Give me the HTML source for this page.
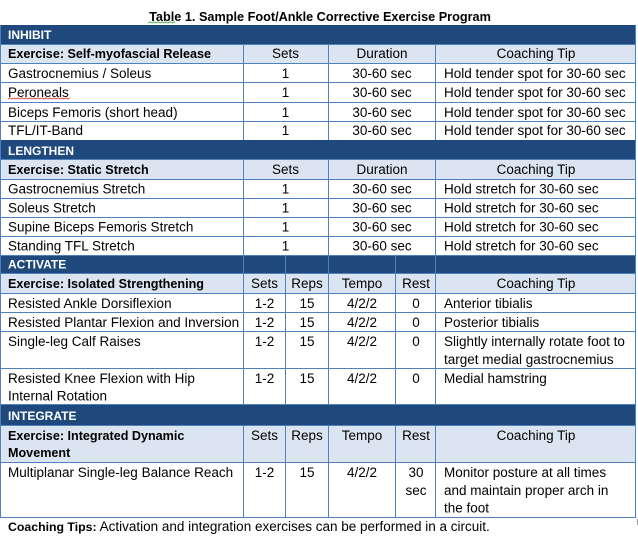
<!DOCTYPE html>
<html>
<head>
<meta charset="utf-8">
<style>
  html,body{margin:0;padding:0;background:#fff;}
  svg{display:block;}
  text{font-family:"Liberation Sans",Arial,sans-serif;fill:#000;}
  .r{font-size:13.5px;}
  .b{font-size:12.6px;font-weight:bold;}
  .band{font-size:12px;font-weight:bold;fill:#fff;}
  .c{text-anchor:middle;}
</style>
</head>
<body>
<svg width="638" height="548" viewBox="0 0 638 548" xmlns="http://www.w3.org/2000/svg">
  <rect x="0" y="0" width="638" height="548" fill="#fff"/>

  <!-- Title -->
  <text x="320" y="21" class="c" style="font-size:12.7px;font-weight:bold;">Table 1. Sample Foot/Ankle Corrective Exercise Program</text>
  <polyline points="148,23 150,21.8 152,23 154,21.8 156,23 158,21.8 160,23 162,21.8 164,23 166,21.8 168,23 170,21.8 172,23 174,21.8 175,23" fill="none" stroke="#3fa53f" stroke-width="0.8"/>

  <!-- ===== INHIBIT ===== -->
  <rect x="0" y="25" width="636" height="19" fill="#1F497D"/>
  <rect x="0" y="44" width="636" height="19" fill="#DBE5F1"/>
  <!-- LENGTHEN -->
  <rect x="0" y="140" width="636" height="19" fill="#1F497D"/>
  <rect x="0" y="159" width="636" height="20" fill="#DBE5F1"/>
  <!-- ACTIVATE -->
  <rect x="0" y="256" width="636" height="17" fill="#1F497D"/>
  <rect x="0" y="273" width="636" height="20" fill="#DBE5F1"/>
  <!-- INTEGRATE -->
  <rect x="0" y="405" width="636" height="20" fill="#1F497D"/>
  <rect x="0" y="425" width="636" height="37" fill="#DBE5F1"/>

  <g stroke="#4F81BD" stroke-width="1" fill="none">
    <!-- horizontal lines -->
    <line x1="0" y1="44.5" x2="636" y2="44.5"/>
    <line x1="0" y1="63.5" x2="636" y2="63.5"/>
    <line x1="0" y1="82.5" x2="636" y2="82.5"/>
    <line x1="0" y1="102.5" x2="636" y2="102.5"/>
    <line x1="0" y1="121.5" x2="636" y2="121.5"/>

    <line x1="0" y1="159.5" x2="636" y2="159.5"/>
    <line x1="0" y1="179.5" x2="636" y2="179.5"/>
    <line x1="0" y1="198.5" x2="636" y2="198.5"/>
    <line x1="0" y1="217.5" x2="636" y2="217.5"/>
    <line x1="0" y1="236.5" x2="636" y2="236.5"/>
    <line x1="0" y1="255.5" x2="636" y2="255.5"/>

    <line x1="0" y1="273.5" x2="636" y2="273.5"/>
    <line x1="0" y1="293.5" x2="636" y2="293.5"/>
    <line x1="0" y1="312.5" x2="636" y2="312.5"/>
    <line x1="0" y1="331.5" x2="636" y2="331.5"/>
    <line x1="0" y1="368.5" x2="636" y2="368.5"/>
    <line x1="0" y1="404.5" x2="636" y2="404.5"/>

    <line x1="0" y1="425.5" x2="636" y2="425.5"/>
    <line x1="0" y1="462.5" x2="636" y2="462.5"/>
    <line x1="0" y1="517.5" x2="636" y2="517.5"/>

    <!-- outer verticals -->
    <line x1="0.5" y1="25" x2="0.5" y2="518"/>
    <line x1="635.5" y1="25" x2="635.5" y2="518"/>

    <!-- INHIBIT verticals -->
    <line x1="243.5" y1="44" x2="243.5" y2="140"/>
    <line x1="328.5" y1="44" x2="328.5" y2="140"/>
    <line x1="435.5" y1="44" x2="435.5" y2="140"/>
    <!-- LENGTHEN verticals -->
    <line x1="243.5" y1="159" x2="243.5" y2="256"/>
    <line x1="328.5" y1="159" x2="328.5" y2="256"/>
    <line x1="435.5" y1="159" x2="435.5" y2="256"/>
    <!-- ACTIVATE verticals (incl. band) -->
    <line x1="243.5" y1="256" x2="243.5" y2="405"/>
    <line x1="285.5" y1="256" x2="285.5" y2="405"/>
    <line x1="328.5" y1="256" x2="328.5" y2="405"/>
    <line x1="395.5" y1="256" x2="395.5" y2="405"/>
    <line x1="435.5" y1="256" x2="435.5" y2="405"/>
    <!-- INTEGRATE verticals -->
    <line x1="243.5" y1="425" x2="243.5" y2="518"/>
    <line x1="285.5" y1="425" x2="285.5" y2="518"/>
    <line x1="328.5" y1="425" x2="328.5" y2="518"/>
    <line x1="395.5" y1="425" x2="395.5" y2="518"/>
    <line x1="435.5" y1="425" x2="435.5" y2="518"/>
  </g>
  <line x1="637.5" y1="519" x2="637.5" y2="525" stroke="#999" stroke-width="1"/>

  <!-- INHIBIT text -->
  <text x="8" y="39" class="band">INHIBIT</text>
  <text x="8" y="58" class="b">Exercise: Self-myofascial Release</text>
  <text x="285.5" y="58" class="r c">Sets</text>
  <text x="382" y="58" class="r c">Duration</text>
  <text x="536" y="58" class="r c">Coaching Tip</text>

  <text x="8" y="78" class="r">Gastrocnemius / Soleus</text>
  <text x="285.5" y="78" class="r c">1</text>
  <text x="382" y="78" class="r c">30-60 sec</text>
  <text x="444" y="78" class="r">Hold tender spot for 30-60 sec</text>

  <text x="8" y="97" class="r">Peroneals</text>
  <polyline points="8,99 10,97.8 12,99 14,97.8 16,99 18,97.8 20,99 22,97.8 24,99 26,97.8 28,99 30,97.8 32,99 34,97.8 36,99 38,97.8 40,99 42,97.8 44,99 46,97.8 48,99 50,97.8 52,99 54,97.8 56,99 58,97.8 60,99 62,97.8 64,99 66,97.8 68,99 70,97.8" fill="none" stroke="#e03030" stroke-width="0.8"/>
  <text x="285.5" y="97" class="r c">1</text>
  <text x="382" y="97" class="r c">30-60 sec</text>
  <text x="444" y="97" class="r">Hold tender spot for 30-60 sec</text>

  <text x="8" y="117" class="r">Biceps Femoris (short head)</text>
  <text x="285.5" y="117" class="r c">1</text>
  <text x="382" y="117" class="r c">30-60 sec</text>
  <text x="444" y="117" class="r">Hold tender spot for 30-60 sec</text>

  <text x="8" y="135" class="r">TFL/IT-Band</text>
  <text x="285.5" y="135" class="r c">1</text>
  <text x="382" y="135" class="r c">30-60 sec</text>
  <text x="444" y="135" class="r">Hold tender spot for 30-60 sec</text>

  <!-- LENGTHEN text -->
  <text x="8" y="155" class="band">LENGTHEN</text>
  <text x="8" y="174" class="b">Exercise: Static Stretch</text>
  <text x="285.5" y="174" class="r c">Sets</text>
  <text x="382" y="174" class="r c">Duration</text>
  <text x="536" y="174" class="r c">Coaching Tip</text>

  <text x="8" y="193.5" class="r">Gastrocnemius Stretch</text>
  <text x="285.5" y="193.5" class="r c">1</text>
  <text x="382" y="193.5" class="r c">30-60 sec</text>
  <text x="444" y="193.5" class="r">Hold stretch for 30-60 sec</text>

  <text x="8" y="212.5" class="r">Soleus Stretch</text>
  <text x="285.5" y="212.5" class="r c">1</text>
  <text x="382" y="212.5" class="r c">30-60 sec</text>
  <text x="444" y="212.5" class="r">Hold stretch for 30-60 sec</text>

  <text x="8" y="231.5" class="r">Supine Biceps Femoris Stretch</text>
  <text x="285.5" y="231.5" class="r c">1</text>
  <text x="382" y="231.5" class="r c">30-60 sec</text>
  <text x="444" y="231.5" class="r">Hold stretch for 30-60 sec</text>

  <text x="8" y="250.5" class="r">Standing TFL Stretch</text>
  <text x="285.5" y="250.5" class="r c">1</text>
  <text x="382" y="250.5" class="r c">30-60 sec</text>
  <text x="444" y="250.5" class="r">Hold stretch for 30-60 sec</text>

  <!-- ACTIVATE text -->
  <text x="8" y="268.5" class="band">ACTIVATE</text>
  <text x="8" y="288" class="b">Exercise: Isolated Strengthening</text>
  <text x="264.5" y="288" class="r c">Sets</text>
  <text x="307" y="288" class="r c">Reps</text>
  <text x="362" y="288" class="r c">Tempo</text>
  <text x="416" y="288" class="r c">Rest</text>
  <text x="536" y="288" class="r c">Coaching Tip</text>

  <text x="8" y="308" class="r">Resisted Ankle Dorsiflexion</text>
  <text x="264.5" y="308" class="r c">1-2</text>
  <text x="307" y="308" class="r c">15</text>
  <text x="362" y="308" class="r c">4/2/2</text>
  <text x="416" y="308" class="r c">0</text>
  <text x="444" y="308" class="r">Anterior tibialis</text>

  <text x="8" y="327" class="r">Resisted Plantar Flexion and Inversion</text>
  <text x="264.5" y="327" class="r c">1-2</text>
  <text x="307" y="327" class="r c">15</text>
  <text x="362" y="327" class="r c">4/2/2</text>
  <text x="416" y="327" class="r c">0</text>
  <text x="444" y="327" class="r">Posterior tibialis</text>

  <text x="8" y="346" class="r">Single-leg Calf Raises</text>
  <text x="264.5" y="346" class="r c">1-2</text>
  <text x="307" y="346" class="r c">15</text>
  <text x="362" y="346" class="r c">4/2/2</text>
  <text x="416" y="346" class="r c">0</text>
  <text x="444" y="346" class="r">Slightly internally rotate foot to</text>
  <text x="444" y="364" class="r">target medial gastrocnemius</text>

  <text x="8" y="383" class="r">Resisted Knee Flexion with Hip</text>
  <text x="8" y="400.5" class="r">Internal Rotation</text>
  <text x="264.5" y="383" class="r c">1-2</text>
  <text x="307" y="383" class="r c">15</text>
  <text x="362" y="383" class="r c">4/2/2</text>
  <text x="416" y="383" class="r c">0</text>
  <text x="444" y="383" class="r">Medial hamstring</text>

  <!-- INTEGRATE text -->
  <text x="8" y="420" class="band">INTEGRATE</text>
  <text x="8" y="440" class="b">Exercise: Integrated Dynamic</text>
  <text x="8" y="457" class="b">Movement</text>
  <text x="264.5" y="440" class="r c">Sets</text>
  <text x="307" y="440" class="r c">Reps</text>
  <text x="362" y="440" class="r c">Tempo</text>
  <text x="416" y="440" class="r c">Rest</text>
  <text x="536" y="440" class="r c">Coaching Tip</text>

  <text x="8" y="477" class="r">Multiplanar Single-leg Balance Reach</text>
  <text x="264.5" y="477" class="r c">1-2</text>
  <text x="307" y="477" class="r c">15</text>
  <text x="362" y="477" class="r c">4/2/2</text>
  <text x="416" y="477" class="r c">30</text>
  <text x="416" y="495" class="r c">sec</text>
  <text x="444" y="477" class="r">Monitor posture at all times</text>
  <text x="444" y="495" class="r">and maintain proper arch in</text>
  <text x="444" y="512.5" class="r">the foot</text>

  <!-- Footer -->
  <text x="8" y="531"><tspan style="font-size:12.3px;font-weight:bold;">Coaching Tips:</tspan><tspan class="r"> Activation and integration exercises can be performed in a circuit.</tspan></text>
</svg>
</body>
</html>
